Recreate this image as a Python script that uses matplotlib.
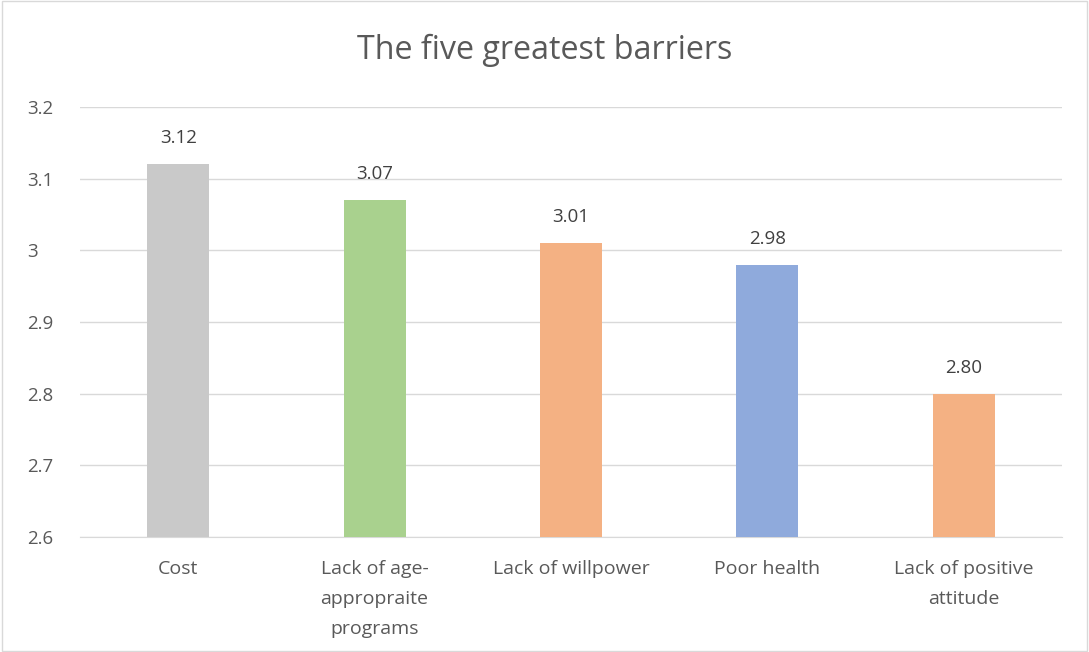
import matplotlib.pyplot as plt
from matplotlib.patches import Rectangle

categories = ["Cost", "Lack of age-\nappropraite\nprograms", "Lack of willpower",
              "Poor health", "Lack of positive\nattitude"]
values = [3.12, 3.07, 3.01, 2.98, 2.80]
colors = ["#C9C9C9", "#A9D18E", "#F4B183", "#8FAADC", "#F4B183"]
yticks = [2.6, 2.7, 2.8, 2.9, 3.0, 3.1, 3.2]
ytick_labels = ["2.6", "2.7", "2.8", "2.9", "3", "3.1", "3.2"]

plt.rcParams['font.family'] = ['Open Sans', 'DejaVu Sans']
txt = "#595959"

fig = plt.figure(figsize=(10.89, 6.52), dpi=100)
ax = fig.add_axes([0.0735, 0.1764, 0.9015, 0.6596])
x = range(len(categories))
bars = ax.bar(x, values, width=0.316, color=colors, zorder=3)
ax.set_xlim(-0.5, len(categories) - 0.5)
ax.set_ylim(2.6, 3.2)
ax.set_yticks(yticks)
ax.set_yticklabels(ytick_labels, fontsize=13.5, color=txt)
ax.set_xticks(list(x))
ax.set_xticklabels(categories, fontsize=14, color=txt, linespacing=1.87, va='top')
ax.tick_params(axis='x', length=0, pad=16.5)
for lab in ax.get_yticklabels():
    lab.set_ha('left')
ax.tick_params(axis='y', length=0, pad=38)
ax.grid(axis='y', color="#D9D9D9", linewidth=1, zorder=0)
for s in ['top', 'right', 'left']:
    ax.spines[s].set_visible(False)
ax.spines['bottom'].set_color("#D9D9D9")
for xi, v in zip(x, values):
    ax.text(xi, v + 0.036, f"{v:.2f}", ha='center', va='center', fontsize=13.5, color="#404040")
fig.text(0.5, 0.922, "The five greatest barriers", ha='center', va='center', fontsize=23.2, color=txt)
fig.patches.append(Rectangle((0.002, 0.002), 0.996, 0.996, transform=fig.transFigure,
                             fill=False, edgecolor="#D9D9D9", linewidth=1))
fig.savefig("out.png", dpi=100)
